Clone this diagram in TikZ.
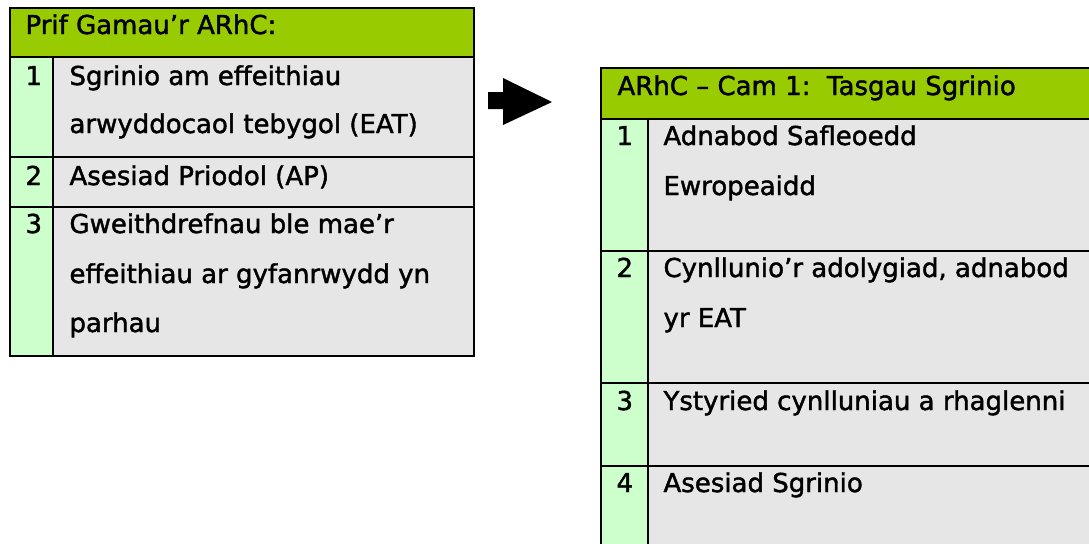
\documentclass[tikz,border=0pt]{standalone}
\usepackage{fontspec}
\setmainfont{DejaVu Sans}[FakeBold=1.6]
\usetikzlibrary{positioning}

\tikzset{every picture/.style={line width=0.75pt}}
\tikzset{
  hdcell/.style={fill={rgb, 255:red, 153; green, 204; blue, 0 }},
  numcell/.style={fill={rgb, 255:red, 204; green, 255; blue, 204 }},
  txtcell/.style={fill={rgb, 255:red, 230; green, 230; blue, 230 }},
  rule/.style={line width=1.5pt, color=black},
  celltext/.style={anchor=base west, inner sep=0pt, font=\fontsize{19.5pt}{24pt}\selectfont}
}

\begin{document}
\begin{tikzpicture}[x=0.75pt,y=0.75pt,yscale=-1,xscale=1]
\useasboundingbox (0,0) rectangle (1089,543);

%Shape: Rectangle [id:left header] 
\fill [hdcell] (10,7.5) rectangle (474,57) ;
%Shape: Rectangle [id:left numbers] 
\fill [numcell] (10,57) rectangle (53,356) ;
%Shape: Rectangle [id:left body] 
\fill [txtcell] (53,57) rectangle (474,356) ;
%Straight Lines [id:left frame] 
\draw [rule] (10,7.5) rectangle (474,356) ;
\draw [rule] (10,57) -- (474,57) ;
\draw [rule] (10,157) -- (474,157) ;
\draw [rule] (10,207) -- (474,207) ;
\draw [rule] (53,57) -- (53,356) ;

%Shape: Rectangle [id:right header] 
\fill [hdcell] (601,67.5) rectangle (1090,118.5) ;
%Shape: Rectangle [id:right numbers] 
\fill [numcell] (601,118.5) rectangle (648,545) ;
%Shape: Rectangle [id:right body] 
\fill [txtcell] (648,118.5) rectangle (1090,545) ;
%Straight Lines [id:right frame] 
\draw [rule] (601,545) -- (601,67.5) -- (1090,67.5) ;
\draw [rule] (601,118.5) -- (1090,118.5) ;
\draw [rule] (601,251) -- (1090,251) ;
\draw [rule] (601,383) -- (1090,383) ;
\draw [rule] (601,466) -- (1090,466) ;
\draw [rule] (648,118.5) -- (648,545) ;

%Shape: Right Arrow [id:step arrow] 
\fill [black] (488,92) -- (503,92) -- (503,78) -- (552,102) -- (503,125) -- (503,109) -- (488,109) -- cycle ;

% Text Node
\draw (25,34) node [celltext] (lhead) {Prif Gamau’r ARhC:};
% Text Node
\draw (25,85) node [celltext] (lnum1) {1};
% Text Node
\draw (69,85) node [celltext] (ltxt1a) {Sgrinio am effeithiau};
% Text Node
\draw (69,133) node [celltext] (ltxt1b) {arwyddocaol tebygol (EAT)};
% Text Node
\draw (25,185) node [celltext] (lnum2) {2};
% Text Node
\draw (69,185) node [celltext] (ltxt2) {Asesiad Priodol (AP)};
% Text Node
\draw (25,233) node [celltext] (lnum3) {3};
% Text Node
\draw (69,233) node [celltext] (ltxt3a) {Gweithdrefnau ble mae’r};
% Text Node
\draw (69,283) node [celltext] (ltxt3b) {effeithiau ar gyfanrwydd yn};
% Text Node
\draw (69,332) node [celltext] (ltxt3c) {parhau};

% Text Node
\draw (617,95) node [celltext] (rhead) {ARhC – Cam 1:\ \ Tasgau Sgrinio};
% Text Node
\draw (616,145) node [celltext] (rnum1) {1};
% Text Node
\draw (663,145) node [celltext] (rtxt1a) {Adnabod Safleoedd};
% Text Node
\draw (663,195) node [celltext] (rtxt1b) {Ewropeaidd};
% Text Node
\draw (616,277) node [celltext] (rnum2) {2};
% Text Node
\draw (663,277) node [celltext] (rtxt2a) {Cynllunio’r adolygiad, adnabod};
% Text Node
\draw (663,327) node [celltext] (rtxt2b) {yr EAT};
% Text Node
\draw (616,410) node [celltext] (rnum3) {3};
% Text Node
\draw (663,410) node [celltext] (rtxt3) {Ystyried cynlluniau a rhaglenni};
% Text Node
\draw (616,492) node [celltext] (rnum4) {4};
% Text Node
\draw (663,492) node [celltext] (rtxt4) {Asesiad Sgrinio};

\end{tikzpicture}
\end{document}
